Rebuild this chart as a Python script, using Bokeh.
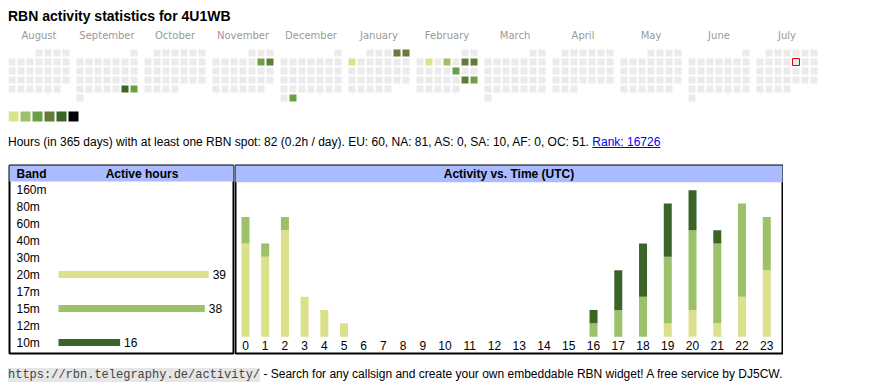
import pandas as pd
import numpy as np
from bokeh.plotting import figure
from bokeh.models import Range1d, Div, ColumnDataSource
from bokeh.layouts import column, row
from bokeh.core.properties import value
from bokeh.embed import file_html
from bokeh.resources import INLINE

# ---------------- data ----------------
callsign = "4U1WB"
month_names = ["August", "September", "October", "November", "December", "January",
               "February", "March", "April", "May", "June", "July"]
period_start = "2024-08-01"
period_end = "2025-07-31"
today = "2025-07-11"

active_days = ["2024-09-28", "2024-09-29", "2024-11-09", "2024-11-10", "2024-12-31",
               "2025-01-04", "2025-01-05", "2025-01-06", "2025-02-04", "2025-02-06",
               "2025-02-08", "2025-02-09", "2025-02-14", "2025-02-22", "2025-02-23"]
active_levels = [5, 3, 3, 4, 3, 4, 4, 1, 1, 2, 4, 4, 3, 4, 3]
level_colors = ["#dbe38b", "#9fc06b", "#6a9f45", "#667b3a", "#3c6428", "#000000"]

bands = ["160m", "80m", "60m", "40m", "30m", "20m", "17m", "15m", "12m", "10m"]
band_hours = [0, 0, 0, 0, 0, 39, 0, 38, 0, 16]
band_color = {"20m": "#dae18a", "15m": "#9dc06b", "10m": "#3c6428"}

hour_labels = [str(h) for h in range(24)]
hours_20m = [7, 6, 8, 3, 2, 1, 0, 0, 0, 0, 0, 0, 0, 0, 0, 0, 0, 0, 0, 1, 2, 1, 3, 5]
hours_15m = [2, 1, 1, 0, 0, 0, 0, 0, 0, 0, 0, 0, 0, 0, 0, 0, 1, 2, 3, 5, 6, 6, 7, 4]
hours_10m = [0, 0, 0, 0, 0, 0, 0, 0, 0, 0, 0, 0, 0, 0, 0, 0, 1, 3, 4, 4, 3, 1, 0, 0]

days_total = 365
total_hours = 82
continents = ["EU", "NA", "AS", "SA", "AF", "OC"]
continent_hours = [60, 81, 0, 10, 0, 51]
rank = 16726

SANS = "Liberation Sans"
GRAY = "#ebebeb"
HEADER = "#aabbff"

# ---------------- title ----------------
title_div = Div(
    text=f'<div style="font-family:\'{SANS}\';font-weight:bold;font-size:14px;line-height:14px;'
         f'padding-top:1px;color:#000;white-space:nowrap">RBN activity statistics for {callsign}</div>',
    width=854, height=20, margin=0)

# ---------------- calendar heatmap ----------------
PITCH = 9.0       # px per cell step
MONTH_STEP = 68.0 / PITCH
CELL = 7.0 / PITCH
CAL_W, CAL_H = 854, 100
cal = figure(width=CAL_W, height=CAL_H, x_range=Range1d(0, CAL_W / PITCH),
             y_range=Range1d((CAL_H - 21) / PITCH, -21 / PITCH),
             output_backend="svg", toolbar_location=None, min_border=0,
             x_axis_type=None, y_axis_type=None)
cal.grid.visible = False
cal.outline_line_color = None

dates = pd.date_range(period_start, period_end, freq="D")
first = pd.Timestamp(period_start)
midx = (dates.year - first.year) * 12 + dates.month - first.month
wd = dates.weekday
first_wd = dates.to_period("M").start_time.weekday
wrow = (dates.day - 1 + first_wd) // 7
level_by_day = dict(zip(pd.to_datetime(active_days), active_levels))
colors = [level_colors[level_by_day[d] - 1] if d in level_by_day else GRAY for d in dates]
cx = np.asarray(midx) * MONTH_STEP + np.asarray(wd) + CELL / 2
cy = np.asarray(wrow) + CELL / 2
cal.rect(x=cx, y=cy, width=CELL, height=CELL, fill_color=colors, line_color=None)

ti = list(dates).index(pd.Timestamp(today))
cal.rect(x=[cx[ti]], y=[cy[ti]], width=CELL, height=CELL, fill_color=None,
         line_color="#e00000", line_width=1)

mx = np.arange(len(month_names)) * MONTH_STEP + (6 * PITCH + 7) / 2 / PITCH
cal.text(x=mx, y=[-14 / PITCH] * len(month_names), text=month_names,
         text_font=value("DejaVu Sans"), text_font_size=value("10px"),
         text_color="#999999", text_align="center", text_baseline="alphabetic")

lx = np.arange(len(level_colors)) * 12 / PITCH + 5 / PITCH
cal.rect(x=lx, y=[(62 + 5) / PITCH] * len(level_colors), width=10 / PITCH, height=10 / PITCH,
         fill_color=level_colors, line_color=None)

# ---------------- hours line ----------------
cont_txt = ", ".join(f"{c}: {h}" for c, h in zip(continents, continent_hours))
hours_div = Div(
    text=f'<div style="font-family:\'{SANS}\';font-size:12px;line-height:14px;padding-top:7px;'
         f'color:#000;white-space:nowrap">Hours (in {days_total} days) with at least one RBN spot: '
         f'{total_hours} ({total_hours / days_total:.1f}h / day). {cont_txt}. '
         f'<a href="#" style="color:#0000ee;text-decoration:underline">Rank: {rank}</a></div>',
    width=854, height=35, margin=0)

# ---------------- band table ----------------
BPX = 3.85          # px per hour
BW, BH = 226, 192
bfw, bfh = BW - 2, BH - 4
bar0 = 49           # px from frame left where bars start
row0 = 24           # px from frame top to first row centre
RP = 17.0           # row pitch px
bandfig = figure(width=BW, height=BH, x_range=Range1d(-bar0 / BPX, (bfw - bar0) / BPX),
                 y_range=Range1d((bfh - row0) / RP, -row0 / RP),
                 output_backend="svg", toolbar_location=None,
                 min_border_left=1, min_border_right=1, min_border_top=2, min_border_bottom=2,
                 x_axis_type=None, y_axis_type=None)
bandfig.grid.visible = False
bandfig.outline_line_color = "black"
bandfig.outline_line_width = 2
bandfig.quad(left=[-bar0 / BPX - 1], right=[(bfw - bar0) / BPX + 1],
             top=[-row0 / RP - 1], bottom=[-8 / RP], fill_color=HEADER, line_color=None)
xs0 = -bar0 / BPX
bandfig.text(x=[xs0], y=[-15.5 / RP], text=["Band"], x_offset=7,
             text_font=value(SANS), text_font_style="bold", text_font_size=value("12px"),
             text_baseline="middle", text_align="left")
bandfig.text(x=[83.5 / BPX], y=[-15.5 / RP], text=["Active hours"],
             text_font=value(SANS), text_font_style="bold", text_font_size=value("12px"),
             text_baseline="middle", text_align="center")
bidx = list(range(len(bands)))
bandfig.text(x=[xs0] * len(bands), y=bidx, text=bands, x_offset=7,
             text_font=value(SANS), text_font_size=value("12px"),
             text_baseline="middle", text_align="left")
act = [i for i, h in enumerate(band_hours) if h > 0]
bandfig.hbar(y=act, left=0, right=[band_hours[i] for i in act], height=7 / RP,
             fill_color=[band_color[bands[i]] for i in act], line_color=None)
bandfig.text(x=[band_hours[i] for i in act], y=act, text=[str(band_hours[i]) for i in act],
             x_offset=4, text_font=value(SANS), text_font_size=value("12px"),
             text_baseline="middle", text_align="left")

# ---------------- activity vs time ----------------
HW, HH = 549, 192
hfw, hfh = HW - 2, HH - 2
HPX = 13.45     # px per hour count
h0 = 10         # px from frame left to centre of hour 0
base = 173      # px from frame top to bar baseline
slot = np.array([14.65 + 5.05 * len(s) for s in hour_labels])
hx = np.cumsum(slot) - slot / 2
hx = hx - hx[0]
hourfig = figure(width=HW, height=HH, x_range=Range1d(-h0, hfw - h0),
                 y_range=Range1d(-(hfh - base) / HPX, base / HPX),
                 output_backend="svg", toolbar_location=None, min_border=1,
                 x_axis_type=None, y_axis_type=None)
hourfig.grid.visible = False
hourfig.outline_line_color = "black"
hourfig.outline_line_width = 2
hourfig.quad(left=[-h0 - 5], right=[hfw - h0 + 5], top=[base / HPX + 1],
             bottom=[(base - 17) / HPX], fill_color=HEADER, line_color=None)
hourfig.text(x=[(hfw / 2) - h0], y=[(base - 9) / HPX], text=["Activity vs. Time (UTC)"],
             text_font=value(SANS), text_font_style="bold", text_font_size=value("12px"),
             text_baseline="middle", text_align="center")
src = ColumnDataSource(dict(x=hx, h20=hours_20m, h15=hours_15m, h10=hours_10m))
hourfig.vbar_stack(["h20", "h15", "h10"], x="x", width=8, source=src,
                   fill_color=[band_color["20m"], band_color["15m"], band_color["10m"]],
                   line_color=None)
hourfig.text(x=hx, y=[-9 / HPX] * 24, text=hour_labels,
             text_font=value(SANS), text_font_size=value("12px"),
             text_baseline="middle", text_align="center")

# ---------------- footer ----------------
footer = Div(
    text=f'<div style="font-family:\'{SANS}\';font-size:12px;line-height:14px;padding-top:12px;'
         f'color:#000;white-space:nowrap"><span style="font-family:\'Liberation Mono\';'
         f'font-size:12px;background:#e6e6e6;color:#444">https://rbn.telegraphy.de/activity/</span>'
         f' - Search for any callsign and create your own embeddable RBN widget! A free service by DJ5CW.</div>',
    width=854, height=27, margin=0)

layout = column(title_div, cal, hours_div, row(bandfig, hourfig, spacing=0), footer,
                spacing=0, margin=(8, 8, 0, 8))

open("out.html", "w").write(file_html(layout, INLINE))
